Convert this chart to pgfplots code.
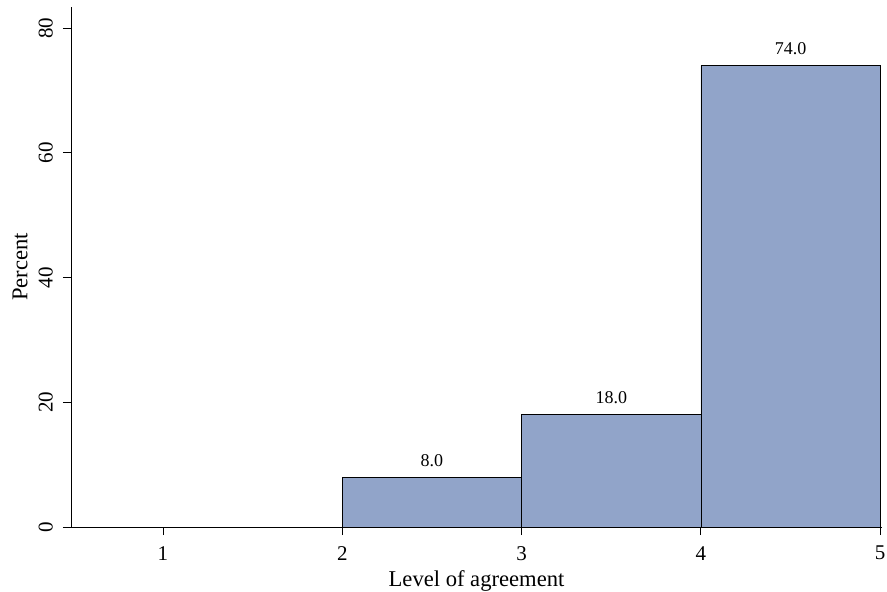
\documentclass[border=0pt]{standalone}
\usepackage{pgfplots}
\pgfplotsset{compat=1.18}
\usepackage{fontspec}
\setmainfont{Liberation Serif}
\definecolor{barfill}{RGB}{145,164,201}
\begin{document}
\begin{tikzpicture}
\path[use as bounding box] (-71pt,-65pt) rectangle (816pt,527pt);
\begin{axis}[
  at={(0,0)}, anchor=south west,
  scale only axis,
  width=811pt, height=520pt,
  xmin=0.487, xmax=5.01,
  ymin=0, ymax=83.4,
  axis x line=bottom, axis y line=left,
  axis line style={-, line width=0.9pt},
  xtick={1,2,3,4,5},
  ytick={0,20,40,60,80},
  tick align=outside,
  major tick length=8pt,
  tick style={line width=0.9pt, black},
  /pgf/number format/assume math mode=true,
  ticklabel style={font=\fontsize{21}{24}\selectfont},
  yticklabel style={rotate=90, anchor=south, inner sep=0pt, yshift=10pt},
  xticklabel style={anchor=north, inner sep=0pt, yshift=-11pt},
  xlabel={Level of agreement},
  ylabel={Percent},
  label style={font=\fontsize{22.6}{26}\selectfont},
  xlabel style={at={(axis description cs:0.5,0)}, anchor=base, yshift=-59pt},
  ylabel style={at={(axis description cs:0,0.5)}, anchor=center, yshift=51pt},
  ybar, bar width=1, bar shift=0pt,
  nodes near coords,
  nodes near coords style={font=\fontsize{18}{21}\selectfont, black, yshift=7pt,
    /pgf/number format/.cd, fixed, fixed zerofill, precision=1},
]
\addplot[fill=barfill, draw=black, line width=0.8pt] coordinates {(2.5,8) (3.5,18) (4.5,74)};
\end{axis}
\end{tikzpicture}
\end{document}
